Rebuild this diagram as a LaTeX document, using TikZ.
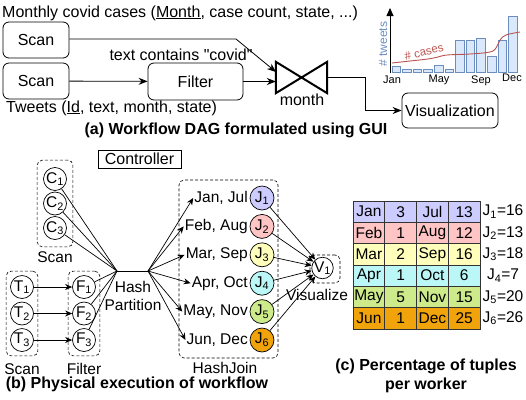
\documentclass[tikz,border=0pt]{standalone}
\usepackage{fontspec}
\setmainfont{Liberation Sans}
\usepackage{tikz}
\usetikzlibrary{arrows.meta,positioning,fit,calc}
\definecolor{jone}{HTML}{CCCCFF}
\definecolor{jtwo}{HTML}{FFC4C4}
\definecolor{jthree}{HTML}{FFFFBB}
\definecolor{jfour}{HTML}{BBF7F7}
\definecolor{jfive}{HTML}{CDEB8B}
\definecolor{jsix}{HTML}{F0A30A}
\definecolor{barfill}{HTML}{DAE8FC}
\definecolor{barline}{HTML}{6C8EBF}
\definecolor{casered}{HTML}{B85450}
\definecolor{cellline}{HTML}{333333}

\begin{document}
\begin{tikzpicture}[x=1pt,y=-1pt,
  every node/.style={font=\fontsize{16}{19}\selectfont,align=center},
  opbox/.style={draw,rounded corners=6pt,line width=0.8pt,inner sep=0pt},
  arr/.style={-{Stealth[length=9pt,width=7pt]},line width=0.8pt},
  sarr/.style={-{Stealth[length=7pt,width=6pt]},line width=0.7pt},
  ln/.style={line width=0.7pt},
  wnode/.style={circle,draw,line width=0.7pt,minimum size=23pt,inner sep=0pt,
                font=\fontsize{15.5}{18}\selectfont},
  grp/.style={draw,dash pattern=on 3pt off 2pt,rounded corners=5pt,line width=0.6pt},
  lbl/.style={font=\fontsize{15.5}{18}\selectfont,inner sep=1pt},
  captxt/.style={font=\bfseries\fontsize{16}{19}\selectfont,inner sep=0.5pt},
  bar/.style={draw=barline,fill=barfill,line width=0.7pt},
  cell/.style={draw=cellline,line width=0.9pt,minimum width=31.75pt,minimum height=21.33pt,
               inner sep=0pt,font=\fontsize{15.5}{18}\selectfont}
]
\useasboundingbox (0,0) rectangle (526,399);

% (a) workflow
\node[anchor=west,inner sep=0pt] (monthly) at (2,13)
  {Monthly covid cases (\underline{Month}, case count, state, ...)};
\node[opbox,minimum width=66pt,minimum height=36pt] (scanc) at (36,40) {Scan};
\node[opbox,minimum width=66pt,minimum height=36pt] (scant) at (36,81) {Scan};
\node[anchor=west,inner sep=0pt] (tweets) at (6,108)
  {Tweets (\underline{Id}, text, month, state)};
\node[opbox,minimum width=95pt,minimum height=37pt] (filt) at (195.5,81.5) {Filter};
\node (cond) at (181,55) {text contains \textquotedbl covid\textquotedbl};
\node[minimum width=51pt,minimum height=31pt,inner sep=0pt] (join) at (301.5,77.5) {};
\draw[line width=2pt] (join.north west) -- (join.south east) -- (join.north east)
  -- (join.south west) -- cycle;
\node (jkey) at (302,100) {month};
\node[opbox,minimum width=96pt,minimum height=35pt] (vis) at (450,110.5) {Visualization};
\coordinate (bendc) at (236,39);
\coordinate (jtop) at (276,72);
\draw[arr] (scant) -- (filt);
\draw[arr] (filt) -- (filt -| join.west);
\draw[arr] (scanc.east |- bendc) -- (bendc) -- (jtop);
\draw[arr] (join.east) -- ++(38,0) |- (vis);
\node[captxt,anchor=base] (capa) at (236,134) {(a) Workflow DAG formulated using GUI};

% chart
\foreach \h [count=\i from 0] in {66,69,69,69,65,69,40,40,38,56,40,16}
  \draw[bar] ({392+10.6*\i},72) rectangle ++(8.5,{\h-72});
\draw[-{Triangle[length=8pt,width=7pt]},line width=0.8pt] (390,73) -- (390,8);
\draw[casered,line width=0.9pt] plot[smooth,tension=0.6] coordinates
  {(392,63) (410,61) (428,59) (438,57) (447,55) (470,54) (490,52) (496,48)
   (500,40) (506,35) (520,32)};
\node[font=\fontsize{12}{14}\selectfont,text=barline,rotate=90] (ytitle) at (383,44) {\# tweets};
\node[font=\fontsize{11.5}{14}\selectfont,text=casered,rotate=14] (ctitle) at (424,52) {\# cases};
\foreach \mo/\xx/\yy in {Jan/392/80,May/439/80,Sep/481/81,Dec/512/78}
  \node[font=\fontsize{11}{13}\selectfont] (tick\mo) at (\xx,\yy) {\mo};

% (b) physical execution
\node[draw,line width=0.8pt,minimum width=83pt,minimum height=18pt,inner sep=1pt] (ctrl)
  at (139.5,159) {Controller};
\foreach \i in {1,2,3} {
  \node[wnode] (c\i) at (55,{179+24.5*(\i-1)}) {C\textsubscript{\i}};
  \node[wnode] (t\i) at (22,{287+26.5*(\i-1)}) {T\textsubscript{\i}};
  \node[wnode] (f\i) at (84,{287+26.5*(\i-1)}) {F\textsubscript{\i}};
  \draw[sarr] (t\i) -- (f\i);
}
\node[grp,fit=(c1)(c3),inner xsep=6pt,inner ysep=7pt] (cgrp) {};
\node[grp,fit=(t1)(t3),inner sep=4pt] (tgrp) {};
\node[grp,fit=(f1)(f3),inner sep=4pt] (fgrp) {};
\node[lbl,anchor=base] (cscan) at (55,262) {Scan};
\node[lbl,anchor=base] (tscan) at (22,374) {Scan};
\node[lbl,anchor=base] (fname) at (84,374) {Filter};

\coordinate (hpl) at (117,271);
\coordinate (hpr) at (148,271);
\node[lbl] (hplbl) at (133,296) {Hash\\Partition};
\foreach \n in {c1,c2,c3,f1,f2,f3}
  \draw[ln] (\n) -- (hpl);
\draw[ln] (hpl) -- (hpr);

\node[wnode,minimum size=21.5pt] (v1) at (322.5,268) {V\textsubscript{1}};
\node[grp,fit={(310,255) (340,283)},inner sep=0pt] (vgrp) {};
\node[lbl] (vname) at (317,295) {Visualize};

\foreach \mm/\cl [count=\i] in {{Jan, Jul}/jone,{Feb, Aug}/jtwo,{Mar, Sep}/jthree,
                                {Apr, Oct}/jfour,{May, Nov}/jfive,{Jun, Dec}/jsix} {
  \node[wnode,minimum size=24pt,fill=\cl] (j\i) at (262,{198+28.4*(\i-1)}) {J\textsubscript{\i}};
  \node[lbl,anchor=east] (m\i) at (249,{198+28.4*(\i-1)}) {\mm};
  \draw[sarr] (hpr) -- (m\i.west);
  \draw[sarr] (j\i) -- (v1);
}
\node[grp,fit={(179,180) (278,358)},inner sep=0pt] (jgrp) {};
\node[lbl,anchor=base] (jname) at (225,373) {HashJoin};
\node[captxt,anchor=base] (capb) at (137,388.5) {(b) Physical execution of workflow};

% (c) tuples per worker
\foreach \ma/\na/\mb/\nb/\cl/\tot [count=\r] in {Jan/3/Jul/13/jone/16,Feb/1/Aug/12/jtwo/13,
    Mar/2/Sep/16/jthree/18,Apr/1/Oct/6/jfour/7,May/5/Nov/15/jfive/20,Jun/1/Dec/25/jsix/26} {
  \path (368.9,{201+21.33*(\r-0.5)}) node[cell,fill=\cl] (ta\r) {\ma}
    ++(31.75,0) node[cell,fill=\cl] (tb\r) {\na}
    ++(31.75,0) node[cell,fill=\cl] (tc\r) {\mb}
    ++(31.75,0) node[cell,fill=\cl] (td\r) {\nb};
  \node[lbl] (tot\r) at (503,{201+21.33*(\r-0.5)}) {J\textsubscript{\r}=\tot};
}
\node[captxt] (capc) at (426,376) {(c) Percentage of tuples\\per worker};
\end{tikzpicture}
\end{document}
